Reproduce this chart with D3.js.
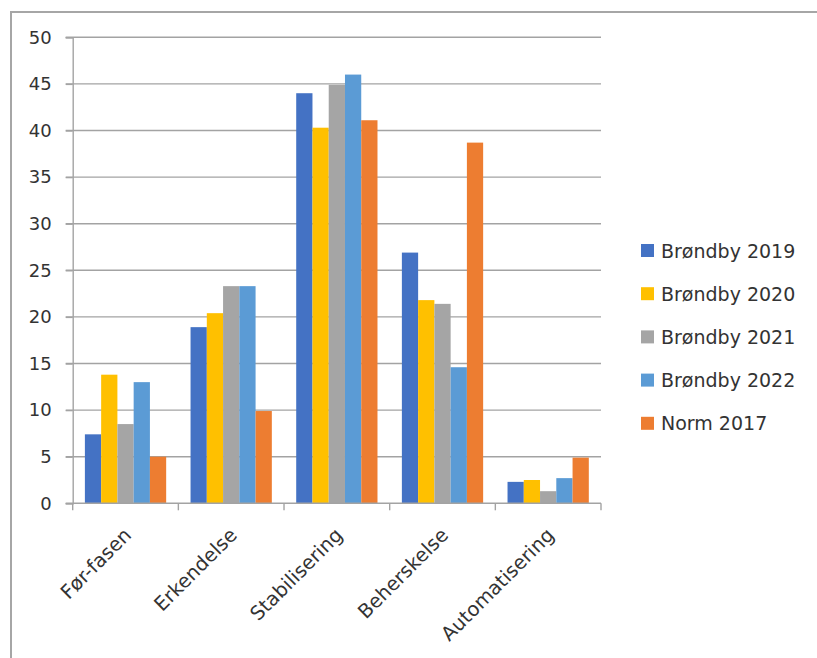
<!DOCTYPE html>
<html>
<head>
<meta charset="utf-8">
<script src="https://cdn.jsdelivr.net/npm/d3@7"></script>
<style>
  html, body { margin: 0; padding: 0; background: #fff; }
  svg { display: block; }
  text { font-family: "DejaVu Sans", sans-serif; fill: #333; }
</style>
</head>
<body>
<svg id="chart" width="817" height="658"></svg>
<script>
const categories = ["Før-fasen", "Erkendelse", "Stabilisering", "Beherskelse", "Automatisering"];
const seriesNames = ["Brøndby 2019", "Brøndby 2020", "Brøndby 2021", "Brøndby 2022", "Norm 2017"];
const brondby2019 = [7.4, 18.9, 44.0, 26.9, 2.3];
const brondby2020 = [13.8, 20.4, 40.3, 21.8, 2.5];
const brondby2021 = [8.5, 23.3, 44.9, 21.4, 1.3];
const brondby2022 = [13.0, 23.3, 46.0, 14.6, 2.7];
const norm2017 = [5.0, 9.9, 41.1, 38.7, 4.9];
const yTicks = [0, 5, 10, 15, 20, 25, 30, 35, 40, 45, 50];
const colors = ["#4472C4", "#FFC000", "#A5A5A5", "#5B9BD5", "#ED7D31"];

const seriesValues = [brondby2019, brondby2020, brondby2021, brondby2022, norm2017];

(function () {
const svg = d3.select("#chart");

// outer frame
svg.append("rect")
  .attr("x", 11).attr("y", 12)
  .attr("width", 900).attr("height", 800)
  .attr("fill", "none").attr("stroke", "#a6a6a6").attr("stroke-width", 2);

const pLeft = 72.7, pRight = 601, pTop = 37.3, pBottom = 503.3;

const y = d3.scaleLinear().domain([0, 50]).range([pBottom, pTop]);
const x0 = d3.scaleBand().domain(categories).range([pLeft, pRight]).padding(0);
const W = x0.bandwidth();
const barW = W / 6.5;
const x1 = d3.scaleBand().domain(seriesNames)
  .range([barW * 0.75, W - barW * 0.75]).padding(0);

// gridlines
const grid = svg.append("g");
grid.selectAll("line").data(yTicks.filter(d => d > 0)).enter().append("line")
  .attr("x1", pLeft - 7).attr("x2", pRight)
  .attr("y1", d => y(d)).attr("y2", d => y(d))
  .attr("stroke", "#a3a3a3").attr("stroke-width", 1.4);

// y axis
const yAxis = svg.append("g")
  .attr("transform", `translate(${pLeft},0)`)
  .call(d3.axisLeft(y).tickValues(yTicks).tickSize(7).tickPadding(14));
yAxis.select(".domain").attr("stroke", "#a3a3a3").attr("stroke-width", 1.4);
yAxis.selectAll(".tick line").attr("stroke", "#a3a3a3").attr("stroke-width", 1.4);
yAxis.selectAll(".tick text")
  .style("font-family", "DejaVu Sans, sans-serif")
  .style("font-size", "18px").attr("fill", "#333");

// bars
const groups = svg.append("g").selectAll("g")
  .data(categories).enter().append("g")
  .attr("transform", d => `translate(${x0(d)},0)`);

groups.selectAll("rect")
  .data((c, i) => seriesNames.map((s, j) => ({ s, j, v: seriesValues[j][i] })))
  .enter().append("rect")
  .attr("x", d => x1(d.s))
  .attr("width", x1.bandwidth())
  .attr("y", d => y(d.v))
  .attr("height", d => y(0) - y(d.v))
  .attr("fill", d => colors[d.j]);

// x axis line and ticks
const xAxisG = svg.append("g");
xAxisG.append("line")
  .attr("x1", pLeft - 7).attr("x2", pRight)
  .attr("y1", pBottom).attr("y2", pBottom)
  .attr("stroke", "#a3a3a3").attr("stroke-width", 1.4);
const boundaries = categories.map(c => x0(c)).concat([pRight]);
xAxisG.selectAll("line.tk").data(boundaries).enter().append("line")
  .attr("class", "tk")
  .attr("x1", d => d).attr("x2", d => d)
  .attr("y1", pBottom).attr("y2", pBottom + 7)
  .attr("stroke", "#a3a3a3").attr("stroke-width", 1.4);

// category labels
xAxisG.selectAll("text").data(categories).enter().append("text")
  .attr("transform", d => `translate(${x0(d) + W / 2 + 7},${pBottom + 33}) rotate(-45)`)
  .attr("text-anchor", "end")
  .style("font-size", "19.5px")
  .text(d => d);

// legend
const legend = svg.append("g");
const legY0 = 250.5, legStep = 43.2;
seriesNames.forEach((s, i) => {
  const gy = legY0 + i * legStep;
  legend.append("rect")
    .attr("x", 641).attr("y", gy - 6.5)
    .attr("width", 13).attr("height", 13)
    .attr("fill", colors[i]);
  legend.append("text")
    .attr("x", 661).attr("y", gy)
    .attr("dominant-baseline", "central")
    .style("font-size", "19px")
    .text(s);
});
})();
</script>
</body>
</html>
